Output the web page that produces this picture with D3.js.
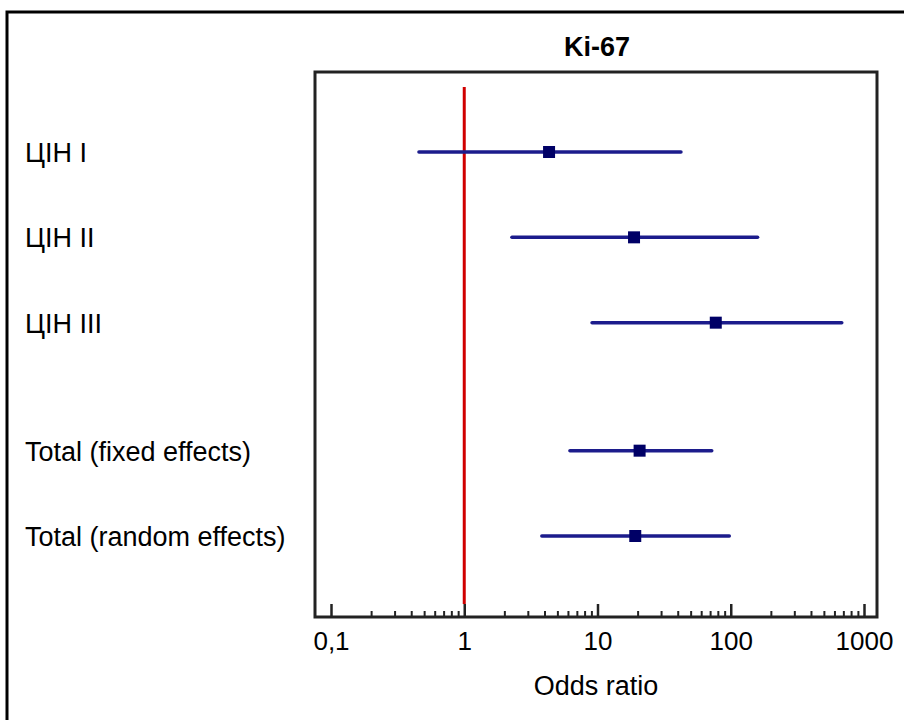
<!DOCTYPE html>
<html>
<head>
<meta charset="utf-8">
<script src="https://cdn.jsdelivr.net/npm/d3@7"></script>
<style>
  body { margin: 0; background: #fff; }
  text { font-family: "Liberation Sans", Arial, sans-serif; fill: #000; }
</style>
</head>
<body>
<div id="chart"></div>
<script>
// forest plot data
const labels = ["ЦІН I", "ЦІН II", "ЦІН III", "Total (fixed effects)", "Total (random effects)"];
const estimates = [4.33, 18.8, 77.2, 20.7, 19.2];
const lower = [0.457, 2.28, 9.1, 6.21, 3.82];
const upper = [42.3, 159, 681, 72.0, 97.5];
const majorTicks = [0.1, 1, 10, 100, 1000];
const title = "Ki-67";
const xTitle = "Odds ratio";

const width = 904, height = 720;
const frame = {left: 315, right: 877, top: 72, bottom: 617};

const svg = d3.select("#chart")
  .append("svg")
  .attr("width", width)
  .attr("height", height);

// outer border (only left and top show inside the window)
svg.append("path")
  .attr("d", `M7,${height + 10}V12H${width + 10}`)
  .attr("fill", "none")
  .attr("stroke", "#000")
  .attr("stroke-width", 3);

const x = d3.scaleLog()
  .domain([0.1, 1000])
  .range([331, 864]);

// totals sit after a half-row gap
const rowPos = labels.map((d, i) => i >= 3 ? i + 0.5 : i);
const y = d3.scaleLinear()
  .domain([0, 4.5])
  .range([152, 536]);

// minor ticks
const minorTicks = [];
for (let p = -1; p < 3; p++) {
  for (let m = 2; m <= 9; m++) minorTicks.push(m * Math.pow(10, p));
}

svg.append("g")
  .attr("transform", `translate(0,${frame.bottom})`)
  .call(d3.axisBottom(x).tickValues(minorTicks).tickSize(-6).tickFormat(""))
  .call(g => g.select(".domain").remove())
  .call(g => g.selectAll("line").attr("stroke", "#222").attr("stroke-width", 2));

svg.append("g")
  .attr("transform", `translate(0,${frame.bottom})`)
  .call(d3.axisBottom(x)
    .tickValues(majorTicks)
    .tickSize(-13)
    .tickPadding(15)
    .tickFormat(d => String(d).replace(".", ",")))
  .call(g => g.select(".domain").remove())
  .call(g => g.selectAll("line").attr("stroke", "#222").attr("stroke-width", 2.5))
  .call(g => g.selectAll("text")
    .style("font-size", "26px")
    .style("font-family", "'Liberation Sans', Arial, sans-serif")
    .attr("fill", "#000"));

// reference line at OR = 1
svg.append("line")
  .attr("x1", x(1)).attr("x2", x(1))
  .attr("y1", 87).attr("y2", frame.bottom - 13)
  .attr("stroke", "#d00000")
  .attr("stroke-width", 3);

// plot frame
svg.append("path")
  .attr("d", `M${frame.left},${frame.bottom}V${frame.top}H${frame.right}V${frame.bottom}Z`)
  .attr("fill", "none")
  .attr("stroke", "#222")
  .attr("stroke-width", 3);

// confidence intervals
svg.selectAll(".ci")
  .data(labels)
  .join("line")
  .attr("class", "ci")
  .attr("x1", (d, i) => x(lower[i]))
  .attr("x2", (d, i) => x(upper[i]))
  .attr("y1", (d, i) => y(rowPos[i]))
  .attr("y2", (d, i) => y(rowPos[i]))
  .attr("stroke", "#1c1c8c")
  .attr("stroke-width", 3.5)
  .attr("stroke-linecap", "round");

// point estimates
const sq = 12;
svg.selectAll(".est")
  .data(labels)
  .join("rect")
  .attr("class", "est")
  .attr("x", (d, i) => x(estimates[i]) - sq / 2)
  .attr("y", (d, i) => y(rowPos[i]) - sq / 2)
  .attr("width", sq)
  .attr("height", sq)
  .attr("fill", "#000066");

// row labels
svg.selectAll(".lab")
  .data(labels)
  .join("text")
  .attr("class", "lab")
  .attr("x", 25)
  .attr("y", (d, i) => y(rowPos[i]) + 10)
  .style("font-size", "27px")
  .text(d => d);

svg.append("text")
  .attr("x", 597)
  .attr("y", 56)
  .attr("text-anchor", "middle")
  .style("font-size", "27px")
  .style("font-weight", "bold")
  .text(title);

svg.append("text")
  .attr("x", (frame.left + frame.right) / 2)
  .attr("y", 695)
  .attr("text-anchor", "middle")
  .style("font-size", "27px")
  .text(xTitle);
</script>
</body>
</html>
